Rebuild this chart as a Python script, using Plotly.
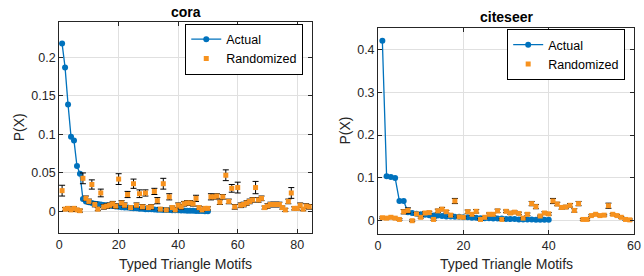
import plotly.graph_objects as go

# ---------------- data ----------------
cora_actual = [0.218, 0.187, 0.139, 0.097, 0.092, 0.059, 0.049, 0.016, 0.013, 0.012,
               0.011, 0.010, 0.0095, 0.009, 0.0085, 0.008, 0.0075, 0.007, 0.0065, 0.006,
               0.0055, 0.005, 0.005, 0.0045, 0.004, 0.004, 0.0035, 0.0035, 0.003, 0.003,
               0.0028, 0.0025, 0.0023, 0.0022, 0.002, 0.002, 0.0018, 0.0016, 0.0015, 0.0014,
               0.0012, 0.0011, 0.001, 0.0009, 0.0008, 0.0007, 0.0006, 0.0005, 0.0004, 0.0003]
cora_actual_x = list(range(1, len(cora_actual) + 1))

cora_rand = [0.027, 0.003, 0.004, 0.002, 0.004, 0.002, 0.001, 0.043, 0.017, 0.013,
             0.035, 0.009, 0.003, 0.024, 0.006, 0.007, 0.008, 0.010, 0.007, 0.042,
             0.011, 0.008, 0.022, 0.005, 0.036, 0.008, 0.023, 0.006, 0.024, 0.005,
             0.006, 0.026, 0.014, 0.003, 0.036, 0.002, 0.019, 0.005, 0.002, 0.008,
             0.006, 0.010, 0.011, 0.011, 0.010, 0.017, 0.005, 0.002, 0.004, 0.004,
             0.019, 0.019, 0.020, 0.012, 0.019, 0.047, 0.013, 0.030, 0.006, 0.031,
             0.008, 0.009, 0.011, 0.013, 0.015, 0.031, 0.015, 0.017, 0.005, 0.007,
             0.009, 0.009, 0.009, 0.009, 0.005, 0.002, 0.013, 0.024, 0.004, 0.004,
             0.008, 0.003, 0.007, 0.006]
cora_rand_err = [0.007, 0.002, 0.002, 0.002, 0.002, 0.002, 0.002, 0.007, 0.003, 0.003,
                 0.006, 0.003, 0.002, 0.005, 0.003, 0.003, 0.003, 0.003, 0.003, 0.007,
                 0.003, 0.003, 0.004, 0.002, 0.006, 0.003, 0.005, 0.003, 0.004, 0.002,
                 0.003, 0.004, 0.004, 0.002, 0.007, 0.002, 0.004, 0.002, 0.002, 0.003,
                 0.003, 0.003, 0.003, 0.003, 0.003, 0.004, 0.002, 0.002, 0.002, 0.002,
                 0.004, 0.003, 0.003, 0.003, 0.003, 0.007, 0.003, 0.005, 0.003, 0.007,
                 0.003, 0.003, 0.003, 0.003, 0.003, 0.008, 0.003, 0.003, 0.002, 0.003,
                 0.003, 0.003, 0.003, 0.003, 0.002, 0.002, 0.003, 0.007, 0.002, 0.002,
                 0.003, 0.002, 0.003, 0.003]
cora_rand_x = list(range(1, len(cora_rand) + 1))

cite_actual = [0.42, 0.104, 0.102, 0.100, 0.046, 0.046, 0.020, 0.018, 0.016, 0.015,
               0.014, 0.013, 0.012, 0.012, 0.011, 0.010, 0.010, 0.009, 0.009, 0.008,
               0.008, 0.007, 0.007, 0.006, 0.006, 0.006, 0.005, 0.005, 0.005, 0.004,
               0.004, 0.004, 0.003, 0.003, 0.003, 0.003, 0.002, 0.002, 0.002, 0.002]
cite_actual_x = list(range(1, len(cite_actual) + 1))

cite_rand = [0.007, 0.006, 0.008, 0.006, 0.003, 0.021, 0.024, 0.000, 0.016, 0.008,
             0.018, 0.019, 0.003, 0.023, 0.027, 0.021, 0.013, 0.046, 0.009, 0.008,
             0.021, 0.015, 0.022, 0.003, 0.008, 0.015, 0.015, 0.023, 0.003, 0.022,
             0.018, 0.020, 0.017, 0.006, 0.015, 0.040, 0.033, 0.011, 0.018, 0.016,
             0.046, 0.039, 0.031, 0.032, 0.036, 0.024, 0.040, 0.003, 0.003, 0.012,
             0.015, 0.012, 0.013, 0.035, 0.015, 0.012, 0.008, 0.003, 0.002]
cite_rand_err = [0.002, 0.002, 0.002, 0.002, 0.002, 0.005, 0.006, 0.002, 0.003, 0.002,
                 0.003, 0.003, 0.002, 0.004, 0.004, 0.003, 0.003, 0.006, 0.002, 0.002,
                 0.004, 0.003, 0.004, 0.002, 0.002, 0.003, 0.003, 0.004, 0.002, 0.003,
                 0.003, 0.003, 0.003, 0.002, 0.003, 0.005, 0.005, 0.002, 0.003, 0.003,
                 0.006, 0.004, 0.004, 0.004, 0.004, 0.004, 0.005, 0.002, 0.002, 0.002,
                 0.002, 0.002, 0.002, 0.006, 0.002, 0.002, 0.002, 0.002, 0.002]
cite_rand_x = list(range(1, len(cite_rand) + 1))

cora_xticks = [0, 20, 40, 60, 80]
cora_yticks = [0, 0.05, 0.1, 0.15, 0.2]
cora_ytext = ["0", "0.05", "0.1", "0.15", "0.2"]
cite_xticks = [0, 20, 40, 60]
cite_yticks = [0, 0.1, 0.2, 0.3, 0.4]
cite_ytext = ["0", "0.1", "0.2", "0.3", "0.4"]

# ---------------- style ----------------
W, H = 644, 276
BLUE = "#0072BD"
ORANGE = "#F7921E"
AX = "#262626"
GRID = "#e0e0e0"
FONT = "Liberation Sans, Arial, Helvetica, sans-serif"

def px_x(p):
    return p / W

def px_y(p):
    return 1 - p / H

fig = go.Figure()

# cora
fig.add_trace(go.Scatter(x=cora_actual_x, y=cora_actual, mode="lines+markers", name="Actual",
                         line=dict(color=BLUE, width=1.3),
                         marker=dict(color=BLUE, size=6, symbol="circle"),
                         xaxis="x", yaxis="y", legend="legend"))
fig.add_trace(go.Scatter(x=cora_rand_x, y=cora_rand, mode="markers", name="Randomized",
                         marker=dict(color=ORANGE, size=5, symbol="square"),
                         error_y=dict(type="data", array=cora_rand_err, color="black",
                                      thickness=1, width=3),
                         xaxis="x", yaxis="y", legend="legend"))
# citeseer
fig.add_trace(go.Scatter(x=cite_actual_x, y=cite_actual, mode="lines+markers", name="Actual",
                         line=dict(color=BLUE, width=1.3),
                         marker=dict(color=BLUE, size=6, symbol="circle"),
                         xaxis="x2", yaxis="y2", legend="legend2"))
fig.add_trace(go.Scatter(x=cite_rand_x, y=cite_rand, mode="markers", name="Randomized",
                         marker=dict(color=ORANGE, size=5, symbol="square"),
                         error_y=dict(type="data", array=cite_rand_err, color="black",
                                      thickness=1, width=3),
                         xaxis="x2", yaxis="y2", legend="legend2"))

axis_common = dict(showline=True, linecolor=AX, linewidth=1, mirror="ticks",
                   ticks="inside", ticklen=4, tickcolor=AX, tickwidth=1,
                   showgrid=True, gridcolor=GRID, gridwidth=1, zeroline=False,
                   ticklabeloverflow="allow",
                   tickfont=dict(family=FONT, size=12.5, color=AX))

legend_common = dict(bgcolor="white", bordercolor="black", borderwidth=1,
                     font=dict(family=FONT, size=12.5, color="black"),
                     xanchor="right", yanchor="middle", itemwidth=30,
                     tracegroupgap=0)

fig.update_layout(
    width=W, height=H,
    margin=dict(l=0, r=0, t=0, b=0),
    paper_bgcolor="white", plot_bgcolor="white",
    font=dict(family=FONT, color=AX),
    xaxis=dict(domain=[px_x(57), px_x(314)], range=[0, 85], tickvals=cora_xticks,
               anchor="y", **axis_common),
    yaxis=dict(domain=[px_y(233), px_y(22)], range=[-0.028, 0.246], tickvals=cora_yticks,
               ticktext=cora_ytext, anchor="x", **axis_common),
    xaxis2=dict(domain=[px_x(381), px_x(641)], range=[0, 60], tickvals=cite_xticks,
                anchor="y2", **axis_common),
    yaxis2=dict(domain=[px_y(234), px_y(28)], range=[-0.031, 0.45], tickvals=cite_yticks,
                ticktext=cite_ytext, anchor="x2", **axis_common),
    legend=dict(x=px_x(305), y=px_y(49), **legend_common),
    legend2=dict(x=px_x(632), y=px_y(54.5), **legend_common),
    showlegend=True,
)

ann_font = dict(family=FONT, size=14, color=AX)
annotations = [
    dict(text="<b>cora</b>", x=px_x(185.5), y=px_y(12.5), font=dict(family=FONT, size=14, color="black")),
    dict(text="<b>citeseer</b>", x=px_x(511), y=px_y(17.5), font=dict(family=FONT, size=14, color="black")),
    dict(text="Typed Triangle Motifs", x=px_x(185.5), y=px_y(264), font=ann_font),
    dict(text="Typed Triangle Motifs", x=px_x(511), y=px_y(264), font=ann_font),
    dict(text="P(X)", x=px_x(17), y=px_y(127.5), textangle=-90, font=ann_font),
    dict(text="P(X)", x=px_x(347), y=px_y(131), textangle=-90, font=ann_font),
]
for a in annotations:
    fig.add_annotation(xref="paper", yref="paper", xanchor="center", yanchor="middle",
                       showarrow=False, **a)

fig.write_html("out.html", config={"displayModeBar": False},
               post_script="document.body.style.margin='0';document.body.style.padding='0';")
